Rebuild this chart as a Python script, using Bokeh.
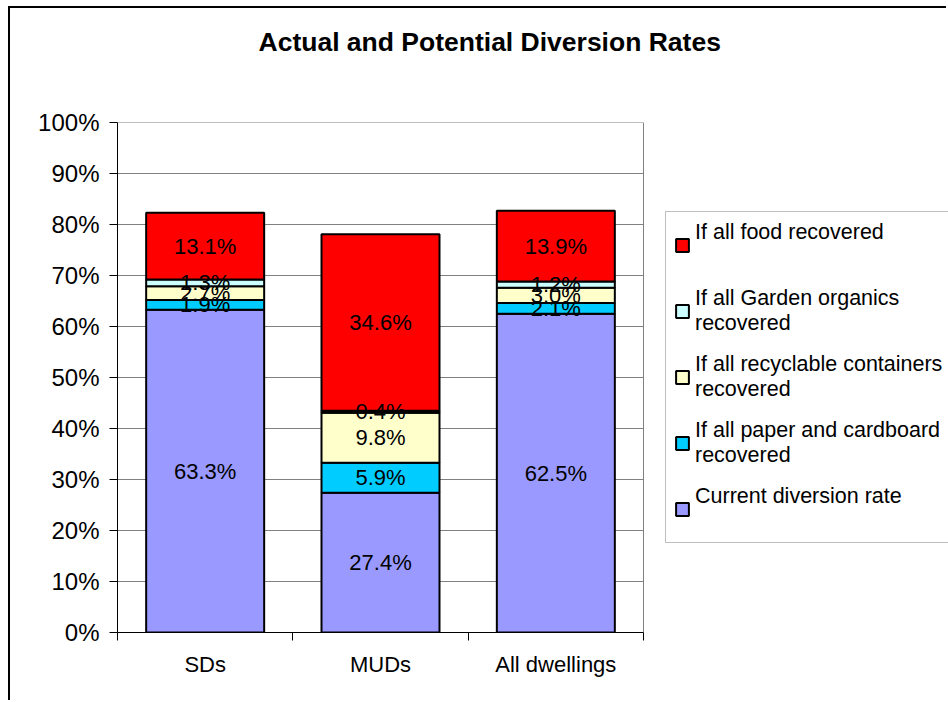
from bokeh.plotting import figure
from bokeh.models import (ColumnDataSource, Legend, LegendItem, FixedTicker,
                          PrintfTickFormatter, Range1d)
from bokeh.core.properties import value
from bokeh.embed import file_html
from bokeh.resources import INLINE

# ---- data ----
categories = ["SDs", "MUDs", "All dwellings"]
current = [63.3, 27.4, 62.5]
paper = [1.9, 5.9, 2.1]
containers = [2.7, 9.8, 3.0]
garden = [1.3, 0.4, 1.2]
food = [13.1, 34.6, 13.9]
series_keys = ["current", "paper", "containers", "garden", "food"]
series_labels = ["Current diversion rate\n\u00a0",
                 "If all paper and cardboard\nrecovered",
                 "If all recyclable containers\nrecovered",
                 "If all Garden organics\nrecovered",
                 "If all food recovered\n\u00a0"]
colors = ["#9999FF", "#00CCFF", "#FFFFCC", "#CCFFFF", "#FF0000"]
y_ticks = [0, 10, 20, 30, 40, 50, 60, 70, 80, 90, 100]
title_text = "Actual and Potential Diversion Rates"

FONT = "Liberation Sans"

# layout (pixels)
W, H = 938, 694
LEFT, TOP, BOTTOM = 107, 114, 70
PLOT_W = 526          # width of the category plot area
FRAME_W = W - LEFT    # frame extends to the right edge (room for legend)

n = len(categories)
xs = [i + 0.5 for i in range(n)]
data = dict(x=xs, current=current, paper=paper, containers=containers,
            garden=garden, food=food)
src = ColumnDataSource(data)

# label positions (segment middles)
lx, ly, lt = [], [], []
for ci in range(n):
    base = 0.0
    for k in series_keys:
        v = data[k][ci]
        lx.append(xs[ci])
        ly.append(base + v / 2)
        lt.append(f"{v:.1f}%")
        base += v
lsrc = ColumnDataSource(dict(x=lx, y=ly, t=lt))

p = figure(width=W, height=H,
           x_range=Range1d(0, n * FRAME_W / PLOT_W), y_range=Range1d(0, 100),
           output_backend="svg", toolbar_location=None,
           min_border_left=LEFT, min_border_right=0,
           min_border_top=TOP, min_border_bottom=BOTTOM,
           background_fill_color="white", border_fill_color="white")
p.styles = {"margin-left": "8px", "margin-top": "6px",
            "border-left": "2px solid black", "border-top": "2px solid black"}

# two blank lines under the title lift it well above the plot area
p.title.text = title_text + "\n\u00a0\n\u00a0"
p.title.align = "left"
p.title.vertical_align = "top"
p.title.offset = 141
p.title.standoff = 8
p.title.text_font = FONT
p.title.text_font_size = "26.5px"
p.title.text_font_style = "bold"
p.title.text_color = "black"

p.outline_line_color = None
p.xgrid.grid_line_color = None
p.ygrid.grid_line_color = None

# plot-area grid lines and right border
p.segment(x0=[0] * len(y_ticks), x1=[n] * len(y_ticks), y0=y_ticks, y1=y_ticks,
          line_color="#808080", line_width=1, level="underlay")
p.segment(x0=[n], x1=[n], y0=[y_ticks[0]], y1=[y_ticks[-1]],
          line_color="#808080", line_width=1, level="underlay")

# x axis
xa = p.xaxis[0]
xa.bounds = (0, n)
xa.ticker = FixedTicker(ticks=xs, minor_ticks=list(range(n + 1)))
xa.major_label_overrides = {xs[i]: categories[i] for i in range(n)}
xa.major_tick_line_color = None
xa.major_tick_out = 0
xa.major_tick_in = 0
xa.minor_tick_in = 0
xa.minor_tick_out = 8
xa.minor_tick_line_color = "black"
xa.axis_line_color = "black"
xa.major_label_standoff = 11
xa.major_label_text_font = FONT
xa.major_label_text_font_size = "22px"
xa.major_label_text_color = "black"

# y axis
ya = p.yaxis[0]
ya.ticker = FixedTicker(ticks=y_ticks, minor_ticks=[])
ya.formatter = PrintfTickFormatter(format="%d%%")
ya.major_tick_in = 0
ya.major_tick_out = 8
ya.major_tick_line_color = "black"
ya.minor_tick_line_color = None
ya.axis_line_color = "black"
ya.major_label_standoff = 10
ya.major_label_text_font = FONT
ya.major_label_text_font_size = "24px"
ya.major_label_text_color = "black"

renderers = p.vbar_stack(series_keys, x="x", width=0.673, source=src,
                         fill_color=colors, line_color="black", line_width=2)

p.text(x="x", y="y", text="t", source=lsrc, text_align="center",
       text_baseline="middle", text_font=value(FONT), text_font_size="22px",
       text_color="black")

items = [LegendItem(label=series_labels[i], renderers=[renderers[i]])
         for i in reversed(range(len(series_keys)))]
legend = Legend(items=items, location=(548, 89))
legend.label_text_font = FONT
legend.label_text_font_size = "21.5px"
legend.label_text_line_height = 1.26
legend.label_text_color = "black"
legend.glyph_width = 16
legend.glyph_height = 16
legend.label_standoff = 5
legend.spacing = 16
legend.padding = 8
legend.margin = 0
legend.label_width = 260
legend.border_line_color = "#808080"
legend.border_line_width = 1
legend.background_fill_color = "white"
legend.background_fill_alpha = 1
p.add_layout(legend)

open("out.html", "w").write(file_html(p, INLINE))
